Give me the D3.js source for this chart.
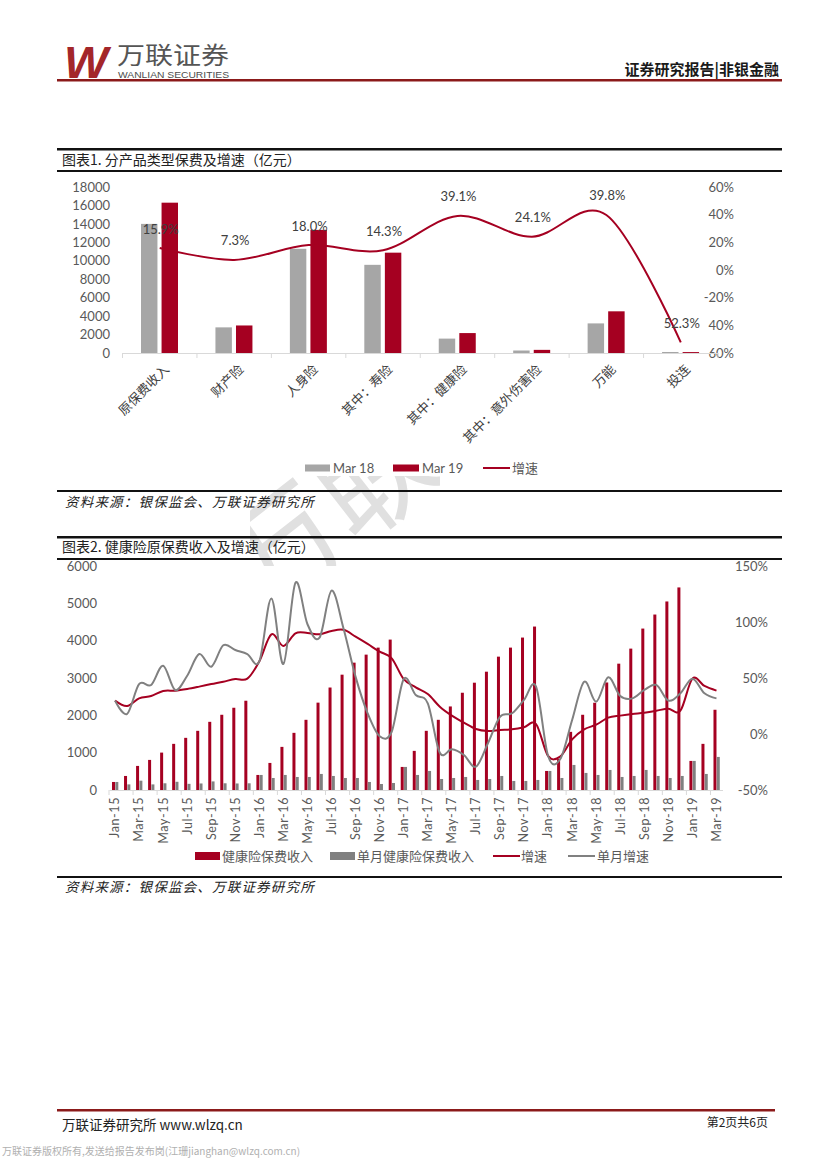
<!DOCTYPE html>
<html>
<head>
<meta charset="utf-8">
<script src="https://cdn.jsdelivr.net/npm/d3@7"></script>
<style>
body { margin: 0; background: #fff; }
svg text { font-family: Lato, "Noto Sans CJK SC", sans-serif; }
</style>
</head>
<body>
<div id="page"></div>
<script>
// ---- chart 1: premium by product type ----
var products = ["原保费收入", "财产险", "人身险", "其中：寿险", "其中：健康险", "其中：意外伤害险", "万能", "投连"];
var mar18 = [14000, 2780, 11300, 9560, 1560, 270, 3210, 110];
var mar19 = [16300, 2985, 13350, 10880, 2160, 340, 4520, 100];
var growth = [15.9, 7.3, 18.0, 14.3, 39.1, 24.1, 39.8, -52.3];
var growthText = ["15.9%", "7.3%", "18.0%", "14.3%", "39.1%", "24.1%", "39.8%", "52.3%"];
var leftTicks1 = [0, 2000, 4000, 6000, 8000, 10000, 12000, 14000, 16000, 18000];
var rightTicks1 = [60, 40, 20, 0, -20, -40, -60];
var rightTickText1 = ["60%", "40%", "20%", "0%", "-20%", "40%", "60%"];

// ---- chart 2: health insurance premium, monthly ----
var months = ["Jan-15", "Feb-15", "Mar-15", "Apr-15", "May-15", "Jun-15", "Jul-15", "Aug-15", "Sep-15", "Oct-15", "Nov-15", "Dec-15",
  "Jan-16", "Feb-16", "Mar-16", "Apr-16", "May-16", "Jun-16", "Jul-16", "Aug-16", "Sep-16", "Oct-16", "Nov-16", "Dec-16",
  "Jan-17", "Feb-17", "Mar-17", "Apr-17", "May-17", "Jun-17", "Jul-17", "Aug-17", "Sep-17", "Oct-17", "Nov-17", "Dec-17",
  "Jan-18", "Feb-18", "Mar-18", "Apr-18", "May-18", "Jun-18", "Jul-18", "Aug-18", "Sep-18", "Oct-18", "Nov-18", "Dec-18",
  "Jan-19", "Feb-19", "Mar-19"];
var healthCum = [215, 376, 645, 806, 1002, 1236, 1397, 1585, 1826, 2015, 2203, 2391,
  403, 725, 1155, 1531, 1880, 2340, 2745, 3089, 3411, 3626, 3814, 4029,
  618, 1048, 1585, 1880, 2238, 2605, 2874, 3169, 3572, 3814, 4083, 4378,
  510, 833, 1558, 2015, 2337, 2880, 3384, 3787, 4324, 4700, 5050, 5426,
  779, 1236, 2149];
var healthMonth = [215, 150, 250, 150, 180, 220, 165, 175, 230, 180, 175, 180,
  403, 322, 403, 349, 349, 430, 376, 322, 322, 215, 161, 188,
  618, 403, 510, 295, 322, 349, 269, 295, 376, 242, 242, 269,
  510, 322, 671, 457, 403, 537, 349, 376, 537, 376, 322, 376,
  779, 430, 886];
var growthCum = [29.8, 25, 31.8, 33.9, 38.4, 38.7, 40.2, 42.3, 44.6, 46.7, 49.1, 49.4,
  65, 89, 78.6, 89.9, 90.2, 89, 92, 93, 86.9, 80.4, 73.5, 67.6,
  49, 41.7, 35.7, 24.4, 16.4, 10.1, 4.5, 2.7, 3.6, 4.2, 6, 8.9,
  -19.6, -20.2, -4.8, 4.2, 8.3, 14.6, 16.4, 17.9, 19, 20.8, 22.6, 20.8,
  49.4, 42.9, 38.7];
var growthMonth = [29.8, 17.9, 44.6, 43.8, 61, 39.3, 52, 71.4, 60.1, 79.2, 75, 71.4,
  65, 121, 62.5, 135, 98, 86, 128, 94, 51, 18.5, -2, 2,
  49, 34.8, 27.4, -16.7, -13.7, -18.8, -29.2, -8.3, 15.4, 18.5, 30.4, 42.3,
  -19.6, -22.6, 12.5, 46.7, 28.9, 50.6, 33.9, 31.8, 39.3, 43.8, 29.8, 36.3,
  49.4, 36.3, 31.8];
var leftTicks2 = [0, 1000, 2000, 3000, 4000, 5000, 6000];
var rightTicks2 = [-50, 0, 50, 100, 150];

var RED = "#a50021";
var GREY1 = "#a6a6a6";
var GREY2 = "#808080";
var AXIS = "#595959";

var svg = d3.select("#page").append("svg")
  .attr("width", 827)
  .attr("height", 1169);

// faint watermark, only visible in the gap between the two charts
svg.append("clipPath").attr("id", "wmClip")
  .append("rect").attr("x", 250).attr("y", 476).attr("width", 190).attr("height", 90);
svg.append("g")
  .attr("clip-path", "url(#wmClip)")
  .append("text")
  .attr("transform", "translate(355,545) rotate(-38)")
  .attr("text-anchor", "middle")
  .style("font-family", "Noto Sans CJK SC")
  .style("font-size", "120px").style("fill", "#e0e0e0")
  .text("万联");

// ---- page header ----
svg.append("text")
  .attr("x", 64).attr("y", 78)
  .attr("textLength", 44).attr("lengthAdjust", "spacingAndGlyphs")
  .style("font-family", "Liberation Sans").style("font-weight", "bold").style("font-style", "italic")
  .style("font-size", "45px").style("fill", "#a3262a")
  .text("W");
svg.append("text")
  .attr("x", 117).attr("y", 64)
  .attr("textLength", 112).attr("lengthAdjust", "spacingAndGlyphs")
  .style("font-family", "Noto Sans CJK SC").style("font-size", "24px").style("fill", "#555")
  .text("万联证券");
svg.append("text")
  .attr("x", 118).attr("y", 78)
  .attr("textLength", 111).attr("lengthAdjust", "spacingAndGlyphs")
  .style("font-family", "Liberation Sans").style("font-size", "9.5px").style("fill", "#4d4d4d")
  .text("WANLIAN SECURITIES");
svg.append("text")
  .attr("x", 779).attr("y", 75)
  .attr("text-anchor", "end")
  .style("font-family", "Noto Sans CJK SC").style("font-weight", "bold").style("font-size", "15px").style("fill", "#1a1a1a")
  .text("证券研究报告|非银金融");
svg.append("rect").attr("x", 57).attr("y", 79).attr("width", 725).attr("height", 2.5).attr("fill", "#8b1a1a");

// ---- frame lines and titles ----
function hline(y, h) {
  svg.append("rect").attr("x", 57).attr("y", y).attr("width", 725).attr("height", h).attr("fill", "#111");
}
function cnText(x, y, size, txt, italic) {
  return svg.append("text")
    .attr("x", x).attr("y", y)
    .style("font-family", "Noto Sans CJK SC")
    .style("font-size", size + "px")
    .style("font-style", italic ? "italic" : "normal")
    .style("fill", "#222")
    .text(txt);
}
hline(148, 2.5);
cnText(62, 165, 14, "图表1. 分产品类型保费及增速（亿元）");
hline(170, 2);
hline(490, 2);
cnText(65, 507, 13.5, "资料来源：银保监会、万联证券研究所", true).style("letter-spacing", "1.2px");
hline(536, 2.5);
cnText(62, 552, 14, "图表2. 健康险原保费收入及增速（亿元）");
hline(558, 2);
hline(876, 2);
cnText(65, 892, 13.5, "资料来源：银保监会、万联证券研究所", true).style("letter-spacing", "1.2px");

// ---- chart 1 ----
var x1 = d3.scaleBand().domain(products).range([122.5, 718]);
var sub1 = d3.scaleBand().domain(["Mar 18", "Mar 19"]).range([18.5, 55.5]).paddingInner(0.2);
var y1 = d3.scaleLinear().domain([0, 18000]).range([353, 187]);
var yr1 = d3.scaleLinear().domain([-60, 60]).range([353, 187]);

var chart1 = svg.append("g");

chart1.append("g")
  .attr("transform", "translate(112,0)")
  .call(d3.axisLeft(y1).tickValues(leftTicks1).tickSize(0).tickPadding(2).tickFormat(d3.format("d")))
  .call(g => g.select(".domain").remove())
  .selectAll("text").style("font-size", "13px").style("fill", AXIS);

chart1.append("g")
  .attr("transform", "translate(734,0)")
  .call(d3.axisRight(yr1).tickValues(rightTicks1).tickSize(0).tickPadding(0)
    .tickFormat((d, i) => rightTickText1[i]))
  .call(g => g.select(".domain").remove())
  .selectAll("text").attr("text-anchor", "end").style("font-size", "13px").style("fill", AXIS);

chart1.selectAll(".bar18")
  .data(products)
  .enter()
  .append("rect")
  .attr("x", d => x1(d) + sub1("Mar 18"))
  .attr("y", (d, i) => y1(mar18[i]))
  .attr("width", sub1.bandwidth())
  .attr("height", (d, i) => y1(0) - y1(mar18[i]))
  .attr("fill", GREY1);

chart1.selectAll(".bar19")
  .data(products)
  .enter()
  .append("rect")
  .attr("x", d => x1(d) + sub1("Mar 19"))
  .attr("y", (d, i) => y1(mar19[i]))
  .attr("width", sub1.bandwidth())
  .attr("height", (d, i) => y1(0) - y1(mar19[i]))
  .attr("fill", RED);

// x axis with category labels
var xAxis1 = chart1.append("g")
  .attr("transform", "translate(0,353)")
  .call(d3.axisBottom(x1).tickSize(0).tickPadding(0));
xAxis1.select(".domain").attr("stroke", "#d9d9d9");
xAxis1.selectAll("text")
  .attr("y", 0).attr("dy", "0.35em")
  .attr("text-anchor", "end")
  .attr("transform", "translate(7,14) rotate(-45)")
  .style("font-family", "Noto Sans CJK SC")
  .style("font-size", "13px").style("fill", "#404040");
chart1.selectAll(".tick1")
  .data(products.concat(["end"]))
  .enter()
  .append("line")
  .attr("x1", d => d === "end" ? x1.range()[1] : x1(d))
  .attr("x2", d => d === "end" ? x1.range()[1] : x1(d))
  .attr("y1", 353).attr("y2", 358)
  .attr("stroke", "#d9d9d9");

var line1 = d3.line()
  .x((d, i) => x1(products[i]) + x1.bandwidth() / 2)
  .y(d => yr1(d))
  .curve(d3.curveCardinal.tension(0));

chart1.append("path")
  .datum(growth)
  .attr("d", line1)
  .attr("fill", "none")
  .attr("stroke", RED)
  .attr("stroke-width", 2);

chart1.selectAll(".lbl1")
  .data(growth)
  .enter()
  .append("text")
  .attr("x", (d, i) => x1(products[i]) + x1.bandwidth() / 2 + 1)
  .attr("y", d => yr1(d) - 19)
  .attr("dy", "0.35em")
  .attr("text-anchor", "middle")
  .style("font-size", "13px").style("fill", "#404040")
  .text((d, i) => growthText[i]);

// legend 1
var leg1 = chart1.append("g").attr("transform", "translate(0,468)");
leg1.append("rect").attr("x", 305).attr("y", -3.5).attr("width", 25).attr("height", 7).attr("fill", GREY1);
leg1.append("text").attr("x", 333).attr("dy", "0.35em").style("font-size", "13px").style("fill", AXIS).text("Mar 18");
leg1.append("rect").attr("x", 393).attr("y", -3.5).attr("width", 26).attr("height", 7).attr("fill", RED);
leg1.append("text").attr("x", 422).attr("dy", "0.35em").style("font-size", "13px").style("fill", AXIS).text("Mar 19");
leg1.append("line").attr("x1", 483).attr("x2", 510).attr("stroke", RED).attr("stroke-width", 2);
leg1.append("text").attr("x", 512).attr("dy", "0.35em").style("font-family", "Noto Sans CJK SC").style("font-size", "13px").style("fill", AXIS).text("增速");

// ---- chart 2 ----
var x2 = d3.scaleBand().domain(months).range([109, 722.5]);
var y2 = d3.scaleLinear().domain([0, 6000]).range([790, 566]);
var yr2 = d3.scaleLinear().domain([-50, 150]).range([790, 566]);
var mid2 = d => x2(d) + x2.bandwidth() / 2;

var chart2 = svg.append("g");

chart2.append("g")
  .attr("transform", "translate(99,0)")
  .call(d3.axisLeft(y2).tickValues(leftTicks2).tickSize(0).tickPadding(2).tickFormat(d3.format("d")))
  .call(g => g.select(".domain").remove())
  .selectAll("text").style("font-size", "13px").style("fill", AXIS);

chart2.append("g")
  .attr("transform", "translate(768,0)")
  .call(d3.axisRight(yr2).tickValues(rightTicks2).tickSize(0).tickPadding(0).tickFormat(d => d + "%"))
  .call(g => g.select(".domain").remove())
  .selectAll("text").attr("text-anchor", "end").style("font-size", "13px").style("fill", AXIS);

chart2.selectAll(".barCum")
  .data(months)
  .enter()
  .append("rect")
  .attr("x", d => mid2(d) - 3)
  .attr("y", (d, i) => y2(healthCum[i]))
  .attr("width", 3)
  .attr("height", (d, i) => y2(0) - y2(healthCum[i]))
  .attr("fill", RED);

chart2.selectAll(".barMonth")
  .data(months)
  .enter()
  .append("rect")
  .attr("x", d => mid2(d) + 0.3)
  .attr("y", (d, i) => y2(healthMonth[i]))
  .attr("width", 3)
  .attr("height", (d, i) => y2(0) - y2(healthMonth[i]))
  .attr("fill", GREY2);

var xAxis2 = chart2.append("g")
  .attr("transform", "translate(0,790)")
  .call(d3.axisBottom(x2).tickValues(months.filter((d, i) => i % 2 === 0)).tickSize(0).tickPadding(0));
xAxis2.select(".domain").attr("stroke", "#d9d9d9");
xAxis2.selectAll("text")
  .attr("y", 0).attr("x", 0).attr("dy", "0.35em")
  .attr("text-anchor", "end")
  .attr("transform", "translate(0,7) rotate(-90)")
  .style("font-size", "12.5px").style("letter-spacing", "0.6px").style("fill", AXIS);
chart2.selectAll(".tick2")
  .data(months.filter((d, i) => i % 2 === 0))
  .enter()
  .append("line")
  .attr("x1", d => x2(d)).attr("x2", d => x2(d))
  .attr("y1", 790).attr("y2", 795)
  .attr("stroke", "#d9d9d9");

var line2 = d3.line()
  .x((d, i) => mid2(months[i]))
  .y(d => yr2(d))
  .curve(d3.curveCardinal.tension(0));

chart2.append("path")
  .datum(growthCum)
  .attr("d", line2)
  .attr("fill", "none")
  .attr("stroke", RED)
  .attr("stroke-width", 2);

chart2.append("path")
  .datum(growthMonth)
  .attr("d", line2)
  .attr("fill", "none")
  .attr("stroke", GREY2)
  .attr("stroke-width", 2);

// legend 2
var leg2 = chart2.append("g").attr("transform", "translate(0,856)");
leg2.append("rect").attr("x", 195).attr("y", -4).attr("width", 25).attr("height", 8).attr("fill", RED);
leg2.append("text").attr("x", 222).attr("dy", "0.35em").style("font-family", "Noto Sans CJK SC").style("font-size", "13px").style("fill", AXIS).text("健康险保费收入");
leg2.append("rect").attr("x", 330).attr("y", -4).attr("width", 25).attr("height", 8).attr("fill", GREY2);
leg2.append("text").attr("x", 357).attr("dy", "0.35em").style("font-family", "Noto Sans CJK SC").style("font-size", "13px").style("fill", AXIS).text("单月健康险保费收入");
leg2.append("line").attr("x1", 493).attr("x2", 520).attr("stroke", RED).attr("stroke-width", 2);
leg2.append("text").attr("x", 521).attr("dy", "0.35em").style("font-family", "Noto Sans CJK SC").style("font-size", "13px").style("fill", AXIS).text("增速");
leg2.append("line").attr("x1", 568).attr("x2", 595).attr("stroke", GREY2).attr("stroke-width", 2);
leg2.append("text").attr("x", 597).attr("dy", "0.35em").style("font-family", "Noto Sans CJK SC").style("font-size", "13px").style("fill", AXIS).text("单月增速");

// ---- footer ----
svg.append("rect").attr("x", 57).attr("y", 1109).attr("width", 718).attr("height", 2.5).attr("fill", "#8b1a1a");
cnText(62, 1130, 13.5, "万联证券研究所 www.wlzq.cn");
svg.append("text")
  .attr("x", 768).attr("y", 1127)
  .attr("text-anchor", "end")
  .style("font-family", "Noto Sans CJK SC").style("font-size", "12px").style("fill", "#222")
  .text("第2页共6页");
svg.append("text")
  .attr("x", 2).attr("y", 1155)
  .style("font-family", "Noto Sans CJK SC").style("font-size", "10px").style("fill", "#b0b0b0")
  .text("万联证券版权所有,发送给报告发布岗(江珊jianghan@wlzq.com.cn)");
</script>
</body>
</html>
